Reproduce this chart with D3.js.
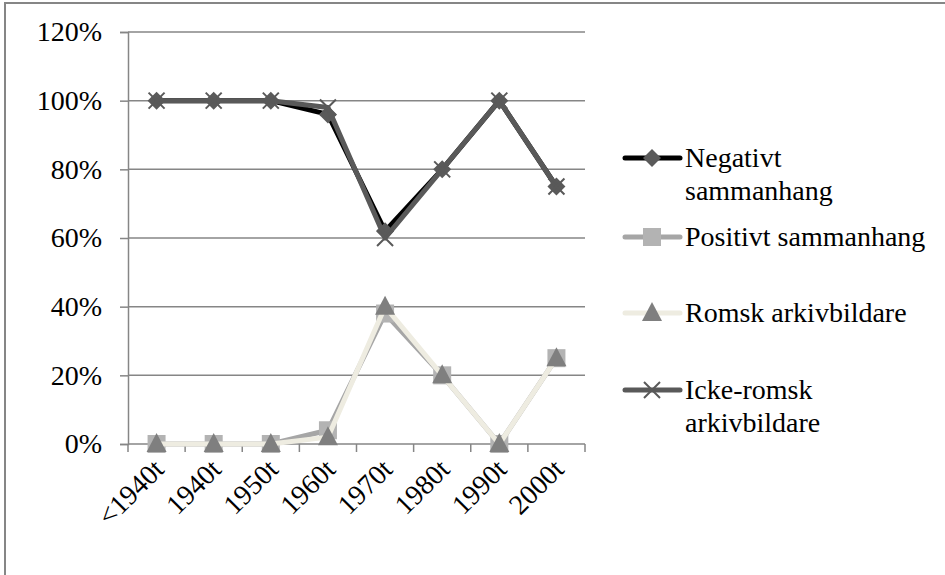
<!DOCTYPE html>
<html>
<head>
<meta charset="utf-8">
<script src="https://cdn.jsdelivr.net/npm/d3@7"></script>
<style>
  html, body { margin: 0; padding: 0; background: #fff; }
  svg { display: block; }
  text { font-family: "Liberation Serif", "DejaVu Serif", serif; fill: #000; }
</style>
</head>
<body>
<svg id="chart" width="945" height="575"></svg>
<script>
const categories = ["<1940t", "1940t", "1950t", "1960t", "1970t", "1980t", "1990t", "2000t"];
const negativt = [100, 100, 100, 96, 62, 80, 100, 75];
const positivt = [0, 0, 0, 4, 38, 20, 0, 25];
const romsk = [0, 0, 0, 2, 40, 20, 0, 25];
const ickeRomsk = [100, 100, 100, 98, 60, 80, 100, 75];
const yTicks = [0, 20, 40, 60, 80, 100, 120];

const series = [
    { name: ["Negativt", "sammanhang"], values: negativt, line: "#000000", marker: "diamond", fill: "#5a5a5a" },
    { name: ["Positivt sammanhang"], values: positivt, line: "#a6a6a6", marker: "square", fill: "#b3b3b3" },
    { name: ["Romsk arkivbildare"], values: romsk, line: "#eeece1", marker: "triangle", fill: "#7f7f7f" },
    { name: ["Icke-romsk", "arkivbildare"], values: ickeRomsk, line: "#595959", marker: "cross", fill: "#595959" }
];

const fontSize = 28;

const margin = { top: 32, left: 128 },
    width = 585 - margin.left,
    height = 444 - margin.top;

const svg = d3.select("#chart");

// outer frame (runs off the right/bottom edge)
svg.append("rect")
    .attr("x", 5).attr("y", 3)
    .attr("width", 960).attr("height", 600)
    .attr("fill", "none")
    .attr("stroke", "#868686")
    .attr("stroke-width", 2);

const g = svg.append("g")
    .attr("transform", "translate(" + margin.left + "," + margin.top + ")");

const x = d3.scaleBand().domain(categories).range([0, width]);
const y = d3.scaleLinear().domain([0, 120]).range([height, 0]);

// gridlines
g.selectAll(".grid")
    .data(yTicks.filter(d => d > 0))
    .enter().append("line")
    .attr("x1", 0).attr("x2", width)
    .attr("y1", d => y(d)).attr("y2", d => y(d))
    .attr("stroke", "#868686")
    .attr("stroke-width", 1.5);

// y axis
const yAxis = g.append("g")
    .call(d3.axisLeft(y).tickValues(yTicks).tickFormat(d => d + "%").tickSize(8).tickPadding(18));
yAxis.select(".domain").attr("stroke", "#868686").attr("stroke-width", 1.5);
yAxis.selectAll(".tick line").attr("stroke", "#868686").attr("stroke-width", 1.5);
yAxis.selectAll(".tick text")
    .attr("font-size", fontSize)
    .attr("font-family", "Liberation Serif")
    .attr("fill", "#000");

// x axis
const xAxisG = g.append("g").attr("transform", "translate(0," + height + ")");
xAxisG.append("line")
    .attr("x1", 0).attr("x2", width)
    .attr("stroke", "#868686").attr("stroke-width", 1.5);
xAxisG.selectAll(".xtick")
    .data(d3.range(categories.length + 1))
    .enter().append("line")
    .attr("x1", i => i * x.step()).attr("x2", i => i * x.step())
    .attr("y1", 0).attr("y2", 8)
    .attr("stroke", "#868686").attr("stroke-width", 1.5);
xAxisG.selectAll(".xlabel")
    .data(categories)
    .enter().append("text")
    .attr("transform", d => "translate(" + (x(d) + x.bandwidth() / 2 + 9) + ",27) rotate(-45)")
    .attr("text-anchor", "end")
    .attr("font-size", fontSize)
    .text(d => d);

function drawMarker(sel, type, fill) {
    if (type === "cross") {
        sel.append("path")
            .attr("d", "M-8,-8L8,8M-8,8L8,-8")
            .attr("stroke", fill).attr("stroke-width", 2).attr("fill", "none");
    } else if (type === "diamond") {
        sel.append("path").attr("d", "M0,-9L9,0L0,9L-9,0Z").attr("fill", fill);
    } else if (type === "square") {
        sel.append("rect").attr("x", -9).attr("y", -9).attr("width", 18).attr("height", 18).attr("fill", fill);
    } else if (type === "triangle") {
        sel.append("path").attr("d", "M0,-11L10,8L-10,8Z").attr("fill", fill);
    }
}

const line = d3.line()
    .x((d, i) => x(categories[i]) + x.bandwidth() / 2)
    .y(d => y(d));

series.forEach(s => {
    g.append("path")
        .datum(s.values)
        .attr("d", line)
        .attr("fill", "none")
        .attr("stroke", s.line)
        .attr("stroke-width", 5)
        .attr("stroke-linejoin", "round")
        .attr("stroke-linecap", "round");
    s.values.forEach((v, i) => {
        const m = g.append("g")
            .attr("transform", "translate(" + (x(categories[i]) + x.bandwidth() / 2) + "," + y(v) + ")");
        drawMarker(m, s.marker, s.fill);
    });
});

// legend
const legendY = [158, 237, 313, 390];
series.forEach((s, i) => {
    const lg = svg.append("g").attr("transform", "translate(625," + legendY[i] + ")");
    lg.append("line")
        .attr("x1", 0).attr("x2", 55)
        .attr("stroke", s.line).attr("stroke-width", 5)
        .attr("stroke-linecap", "round");
    const m = lg.append("g").attr("transform", "translate(27,0)");
    drawMarker(m, s.marker, s.fill);
    lg.append("text")
        .attr("x", 60)
        .attr("y", 9)
        .attr("font-size", fontSize)
        .selectAll("tspan")
        .data(s.name)
        .enter().append("tspan")
        .attr("x", 60)
        .attr("dy", (d, j) => j === 0 ? 0 : 33)
        .text(d => d);
});
</script>
</body>
</html>
